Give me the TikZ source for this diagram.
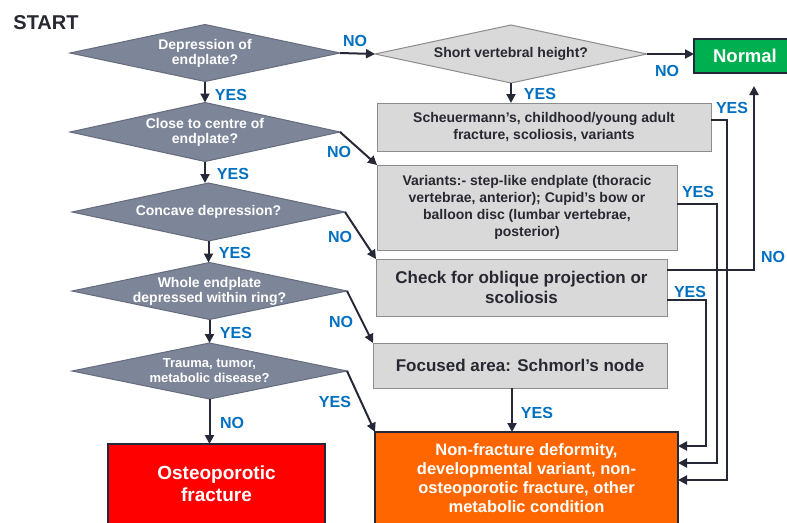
\documentclass[tikz,border=0pt]{standalone}
\usepackage{fontspec}
\setmainfont{Liberation Sans}
\usetikzlibrary{shapes.geometric,arrows.meta}
\definecolor{dia}{RGB}{125,134,152}
\definecolor{diaedge}{RGB}{100,108,125}
\definecolor{boxg}{RGB}{217,217,217}
\definecolor{boxedge}{RGB}{140,140,140}
\definecolor{ln}{RGB}{38,40,56}
\definecolor{lbl}{RGB}{0,112,192}
\definecolor{grn}{RGB}{0,176,80}
\definecolor{org}{RGB}{255,102,0}
\definecolor{txtd}{RGB}{40,40,50}
\begin{document}
\begin{tikzpicture}[x=1pt,y=-1pt,
  dmd/.style={diamond, draw=diaedge, fill=dia, line width=1pt, inner sep=0pt, outer sep=0pt, minimum width=272pt, minimum height=57pt},
  dtxt/.style={text=white, font=\bfseries\fontsize{14}{15}\selectfont, align=center, inner sep=0pt},
  gtxt/.style={text=txtd, font=\bfseries\fontsize{14}{15}\selectfont, align=center, inner sep=0pt},
  gbox/.style={rectangle, draw=boxedge, fill=boxg, line width=1pt, inner sep=0pt, outer sep=0pt, text=txtd, align=center},
  cbox/.style={rectangle, draw=ln, line width=2.5pt, inner sep=0pt, outer sep=0pt, text=white, align=center},
  arr/.style={draw=ln, line width=2pt, -{Triangle[length=9pt,width=9pt]}},
  lab/.style={text=lbl, font=\bfseries\fontsize{16}{16}\selectfont, inner sep=0pt}
]
\useasboundingbox (0,0) rectangle (787,522);
\fill[white] (0,0) rectangle (787,522);

\node[text=txtd, font=\bfseries\fontsize{20}{20}\selectfont, inner sep=0pt] (start) at (46,23) {START};

% left diamonds
\node[dmd, minimum width=270pt, label={[dtxt]center:Depression of\\endplate?}] (d1) at (205,53) {};
\node[dmd, minimum width=270pt, minimum height=59pt, label={[dtxt]center:Close to centre of\\endplate?}] (d2) at (205,132) {};
\node[dmd, minimum width=273pt, minimum height=58pt, label={[dtxt]center:Concave depression?}] (d3) at (208.5,212) {};
\node[dmd, minimum width=275pt, label={[dtxt]center:Whole endplate\\depressed within ring?}] (d4) at (209.5,291) {};
\node[dmd, minimum width=275pt, minimum height=56pt, label={[dtxt, font=\bfseries\fontsize{13}{15}\selectfont]center:Trauma, tumor,\\metabolic disease?}] (d5) at (209.5,371) {};

% right column
\node[dmd, fill=boxg, draw=boxedge, minimum width=272pt, minimum height=58pt, label={[gtxt]center:Short vertebral height?}] (sv) at (511,54) {};
\node[cbox, fill=grn, minimum width=102pt, minimum height=34pt, font=\bfseries\fontsize{18.5}{20}\selectfont] (nrm) at (745,56) {Normal};

\node[gbox, minimum width=334pt, minimum height=48pt, font=\bfseries\fontsize{14}{16.5}\selectfont] (sch) at (544,127) {Scheuermann’s, childhood/young adult\\fracture, scoliosis, variants};
\node[gbox, minimum width=300pt, minimum height=85pt, font=\bfseries\fontsize{14}{17}\selectfont] (var) at (527,207.5) {Variants:- step-like endplate (thoracic\\vertebrae, anterior); Cupid’s bow or\\balloon disc (lumbar vertebrae,\\posterior)};
\node[gbox, minimum width=291pt, minimum height=57pt, font=\bfseries\fontsize{17}{20}\selectfont] (chk) at (521.5,287.5) {Check for oblique projection or\\scoliosis};
\node[gbox, minimum width=294pt, minimum height=45pt, font=\bfseries\fontsize{17}{20}\selectfont] (foc) at (520,365.5) {Focused area: Schmorl’s node};

% outcome boxes
\node[cbox, fill=org, minimum width=303pt, minimum height=93pt, font=\bfseries\fontsize{16.5}{19}\selectfont] (nf) at (526.5,478.5) {Non-fracture deformity,\\developmental variant, non-\\osteoporotic fracture, other\\metabolic condition};
\node[cbox, fill=red, minimum width=217pt, minimum height=80pt, font=\bfseries\fontsize{19}{22}\selectfont] (ost) at (216.5,484) {Osteoporotic\\fracture};

\coordinate (nrmin) at ([xshift=9pt,yshift=-13pt]nrm.south);

% connectors
\draw[arr] (d1.east) -- (sv.west);
\draw[arr] (sv.east) -- (sv.east -| nrm.west);
\draw[arr] (sv.south) -- (sv.south |- sch.north);
\draw[arr] (d1.south) -- (d1.south |- d2.north);
\draw[arr] (d2.south) -- (d2.south |- d3.north);
\draw[arr] (d3.south) -- (d3.south |- d4.north);
\draw[arr] (d4.south) -- (d4.south |- d5.north);
\draw[arr] (d5.south) -- (d5.south |- ost.north);
\draw[arr] (d2.east) -- (var.north west);
\draw[arr] (d3.east) -- (chk.north west);
\draw[arr] (d4.east) -- (foc.north west);
\draw[arr] (d5.east) -- (nf.north west);
\draw[arr] ([xshift=-8pt]foc.south) -- ([xshift=-8pt]foc.south |- nf.north);
\draw[arr] ([yshift=7pt]sch.east) -- ++(16,0) |- ([yshift=-1.5pt]nf.east);
\draw[arr] ([yshift=3.5pt]var.east) -- ++(40,0) |- ([yshift=15.5pt]nf.east);
\draw[arr] ([yshift=-12.5pt]chk.east) -- ++(39,0) |- ([yshift=32.5pt]nf.east);
\draw[arr] ([yshift=17.5pt]chk.east) -| (nrmin);

% labels
\node[lab] (l1) at (355,41) {NO};
\node[lab] (l2) at (231,95) {YES};
\node[lab] (l3) at (233,174) {YES};
\node[lab] (l4) at (339,152) {NO};
\node[lab] (l5) at (340,237) {NO};
\node[lab] (l6) at (235,253) {YES};
\node[lab] (l7) at (341,322) {NO};
\node[lab] (l8) at (236,333) {YES};
\node[lab] (l9) at (335,402) {YES};
\node[lab] (l10) at (232,423) {NO};
\node[lab] (l11) at (540,94) {YES};
\node[lab] (l12) at (667,71) {NO};
\node[lab] (l13) at (732,108) {YES};
\node[lab] (l14) at (698,192) {YES};
\node[lab] (l15) at (690,292) {YES};
\node[lab] (l16) at (773,257) {NO};
\node[lab] (l17) at (537,413) {YES};
\end{tikzpicture}
\end{document}
